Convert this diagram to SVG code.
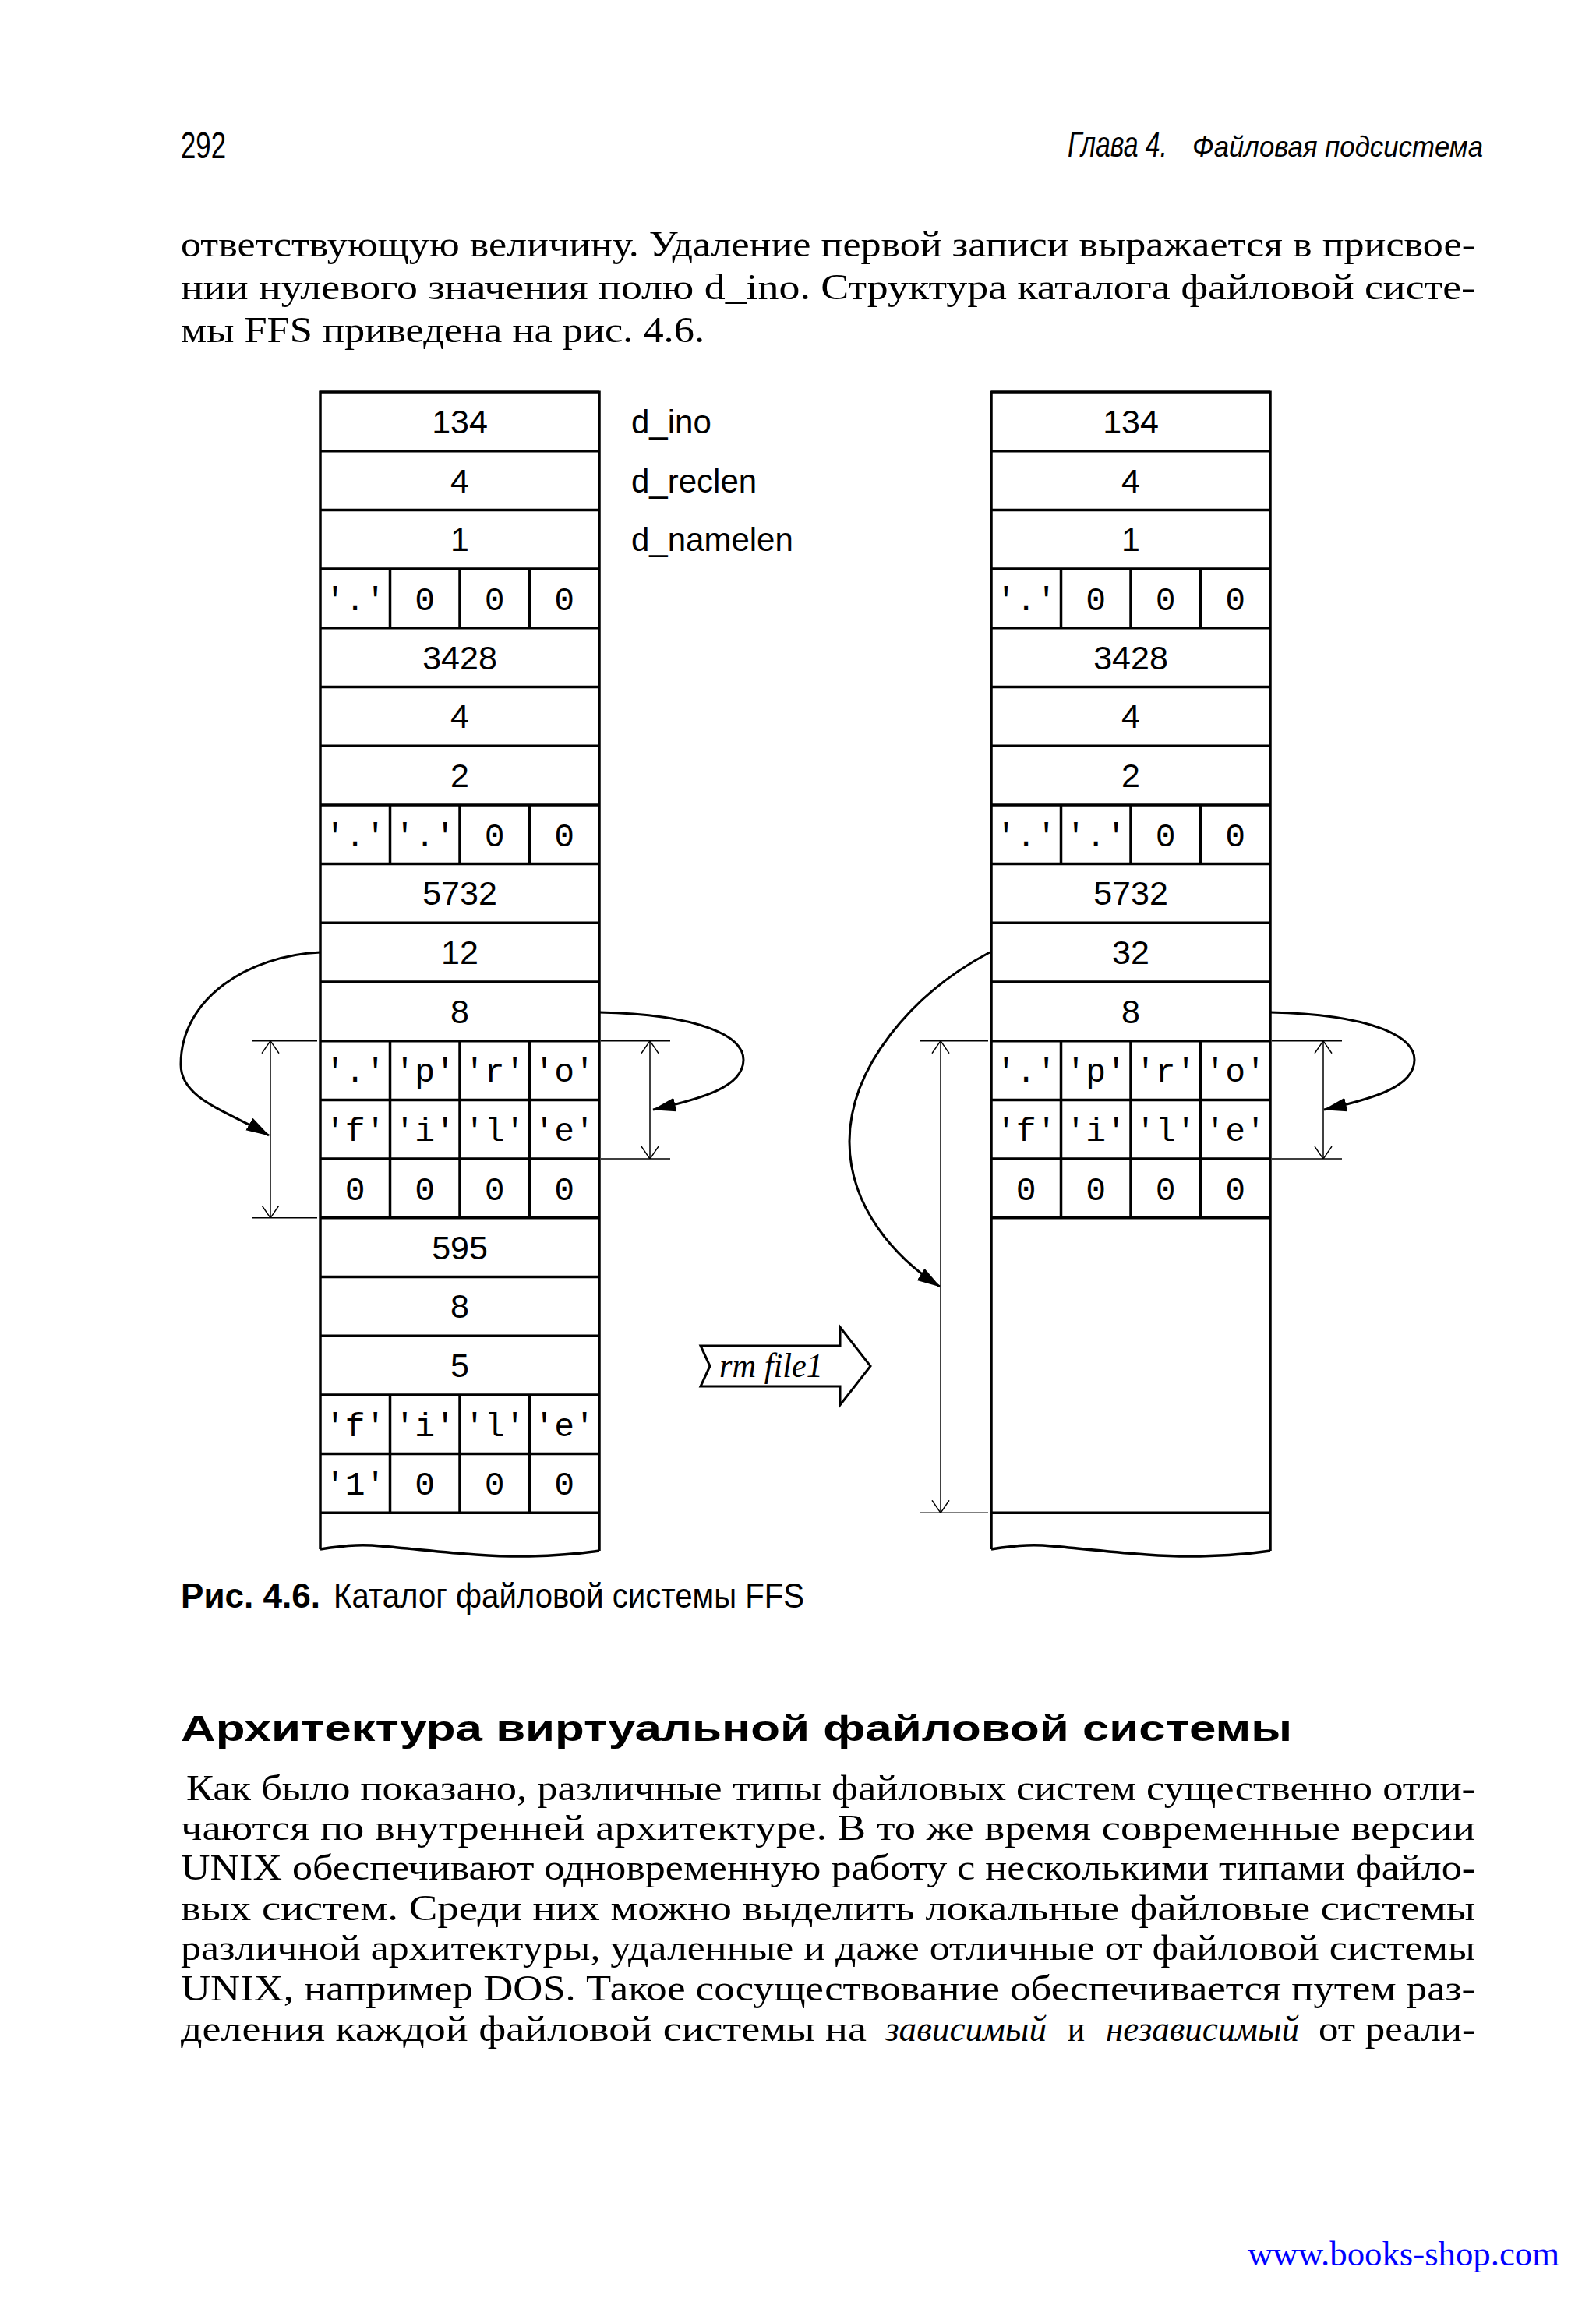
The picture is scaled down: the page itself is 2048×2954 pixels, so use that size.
<svg xmlns="http://www.w3.org/2000/svg" width="2048" height="2954" viewBox="0 0 2048 2954">
<defs>
<style>
.tbl{fill:none;stroke:#000;stroke-width:3.5}
.thin{fill:none;stroke:#000;stroke-width:1.5}
.conn{fill:none;stroke:#000;stroke-width:3}
.num{font-family:"Liberation Sans",Arial,sans-serif;font-size:43px;text-anchor:middle;fill:#000}
.lbl{font-family:"Liberation Sans",Arial,sans-serif;font-size:42px;fill:#000}
.ch{font-family:"Liberation Mono","Courier New",monospace;font-size:43px;text-anchor:middle;fill:#000}
.body{font-family:"Liberation Serif","Times New Roman",serif;font-size:46px;fill:#000}
.bi{font-style:italic}
.sans{font-family:"Liberation Sans",Arial,sans-serif;fill:#000}
</style>
<marker id="ah" viewBox="0 0 30 20" refX="29" refY="10" markerWidth="30" markerHeight="20" markerUnits="userSpaceOnUse" orient="auto"><path d="M0,1 L30,10 L0,19 Z" fill="#000"/></marker>
<marker id="dim" viewBox="0 0 16 24" refX="16" refY="12" markerWidth="16" markerHeight="24" markerUnits="userSpaceOnUse" orient="auto-start-reverse"><path d="M0,1 L16,12 L0,23" fill="none" stroke="#000" stroke-width="1.5"/></marker>
</defs>
<rect width="2048" height="2954" fill="#fff"/>

<g id="page-header">
<text class="sans" x="232" y="203" font-size="48" textLength="58" lengthAdjust="spacingAndGlyphs">292</text>
<text class="sans" x="1370" y="201" font-size="46" font-style="italic" textLength="128" lengthAdjust="spacingAndGlyphs">Глава 4.</text>
<text class="sans" x="1530" y="201" font-size="37" font-style="italic" textLength="373" lengthAdjust="spacingAndGlyphs">Файловая подсистема</text>
</g>

<g id="para1">
<text class="body" x="232" y="329" textLength="1661" lengthAdjust="spacingAndGlyphs">ответствующую величину. Удаление первой записи выражается в присвое-</text>
<text class="body" x="232" y="384" textLength="1661" lengthAdjust="spacingAndGlyphs">нии нулевого значения полю d_ino. Структура каталога файловой систе-</text>
<text class="body" x="232" y="439" textLength="672" lengthAdjust="spacingAndGlyphs">мы FFS приведена на рис. 4.6.</text>
</g>

<g id="left-table">
<path class="tbl" d="M411 503H769M411 578.7H769M411 654.4H769M411 730.1H769M411 805.8H769M411 881.5H769M411 957.2H769M411 1032.9H769M411 1108.6H769M411 1184.3H769M411 1260H769M411 1335.7H769M411 1411.4H769M411 1487.1H769M411 1562.8H769M411 1638.5H769M411 1714.2H769M411 1789.9H769M411 1865.6H769M411 1941.3H769M411 501.5V1988M769 501.5V1990M411 1988C449 1982 469 1982 489 1984C559 1990 619 1998 679 1997C719 1996 749 1993 769 1990"/>
<path class="tbl" d="M500.5 730.1V805.8M590 730.1V805.8M679.5 730.1V805.8M500.5 1032.9V1108.6M590 1032.9V1108.6M679.5 1032.9V1108.6M500.5 1335.7V1562.8M590 1335.7V1562.8M679.5 1335.7V1562.8M500.5 1789.9V1941.3M590 1789.9V1941.3M679.5 1789.9V1941.3"/>
<text class="num" x="590" y="556">134</text>
<text class="num" x="590" y="632">4</text>
<text class="num" x="590" y="707">1</text>
<text class="ch" x="455.75" y="783">'.'</text><text class="ch" x="545.25" y="783">0</text><text class="ch" x="634.75" y="783">0</text><text class="ch" x="724.25" y="783">0</text>
<text class="num" x="590" y="859">3428</text>
<text class="num" x="590" y="934">4</text>
<text class="num" x="590" y="1010">2</text>
<text class="ch" x="455.75" y="1086">'.'</text><text class="ch" x="545.25" y="1086">'.'</text><text class="ch" x="634.75" y="1086">0</text><text class="ch" x="724.25" y="1086">0</text>
<text class="num" x="590" y="1161">5732</text>
<text class="num" x="590" y="1237">12</text>
<text class="num" x="590" y="1313">8</text>
<text class="ch" x="455.75" y="1388">'.'</text><text class="ch" x="545.25" y="1388">'p'</text><text class="ch" x="634.75" y="1388">'r'</text><text class="ch" x="724.25" y="1388">'o'</text>
<text class="ch" x="455.75" y="1464">'f'</text><text class="ch" x="545.25" y="1464">'i'</text><text class="ch" x="634.75" y="1464">'l'</text><text class="ch" x="724.25" y="1464">'e'</text>
<text class="ch" x="455.75" y="1540">0</text><text class="ch" x="545.25" y="1540">0</text><text class="ch" x="634.75" y="1540">0</text><text class="ch" x="724.25" y="1540">0</text>
<text class="num" x="590" y="1616">595</text>
<text class="num" x="590" y="1691">8</text>
<text class="num" x="590" y="1767">5</text>
<text class="ch" x="455.75" y="1843">'f'</text><text class="ch" x="545.25" y="1843">'i'</text><text class="ch" x="634.75" y="1843">'l'</text><text class="ch" x="724.25" y="1843">'e'</text>
<text class="ch" x="455.75" y="1918">'1'</text><text class="ch" x="545.25" y="1918">0</text><text class="ch" x="634.75" y="1918">0</text><text class="ch" x="724.25" y="1918">0</text>
</g>

<g id="field-labels">
<text class="lbl" x="810" y="556">d_ino</text>
<text class="lbl" x="810" y="632">d_reclen</text>
<text class="lbl" x="810" y="707">d_namelen</text>
</g>

<g id="right-table">
<path class="tbl" d="M1272 503H1630M1272 578.7H1630M1272 654.4H1630M1272 730.1H1630M1272 805.8H1630M1272 881.5H1630M1272 957.2H1630M1272 1032.9H1630M1272 1108.6H1630M1272 1184.3H1630M1272 1260H1630M1272 1335.7H1630M1272 1411.4H1630M1272 1487.1H1630M1272 1562.8H1630M1272 1941.3H1630M1272 501.5V1988M1630 501.5V1990M1272 1988C1310 1982 1330 1982 1350 1984C1420 1990 1480 1998 1540 1997C1580 1996 1610 1993 1630 1990"/>
<path class="tbl" d="M1361.5 730.1V805.8M1451 730.1V805.8M1540.5 730.1V805.8M1361.5 1032.9V1108.6M1451 1032.9V1108.6M1540.5 1032.9V1108.6M1361.5 1335.7V1562.8M1451 1335.7V1562.8M1540.5 1335.7V1562.8"/>
<text class="num" x="1451" y="556">134</text>
<text class="num" x="1451" y="632">4</text>
<text class="num" x="1451" y="707">1</text>
<text class="ch" x="1316.75" y="783">'.'</text><text class="ch" x="1406.25" y="783">0</text><text class="ch" x="1495.75" y="783">0</text><text class="ch" x="1585.25" y="783">0</text>
<text class="num" x="1451" y="859">3428</text>
<text class="num" x="1451" y="934">4</text>
<text class="num" x="1451" y="1010">2</text>
<text class="ch" x="1316.75" y="1086">'.'</text><text class="ch" x="1406.25" y="1086">'.'</text><text class="ch" x="1495.75" y="1086">0</text><text class="ch" x="1585.25" y="1086">0</text>
<text class="num" x="1451" y="1161">5732</text>
<text class="num" x="1451" y="1237">32</text>
<text class="num" x="1451" y="1313">8</text>
<text class="ch" x="1316.75" y="1388">'.'</text><text class="ch" x="1406.25" y="1388">'p'</text><text class="ch" x="1495.75" y="1388">'r'</text><text class="ch" x="1585.25" y="1388">'o'</text>
<text class="ch" x="1316.75" y="1464">'f'</text><text class="ch" x="1406.25" y="1464">'i'</text><text class="ch" x="1495.75" y="1464">'l'</text><text class="ch" x="1585.25" y="1464">'e'</text>
<text class="ch" x="1316.75" y="1540">0</text><text class="ch" x="1406.25" y="1540">0</text><text class="ch" x="1495.75" y="1540">0</text><text class="ch" x="1585.25" y="1540">0</text>
</g>

<g id="rm-arrow">
<polygon points="899,1727 1078,1727 1078,1703 1117,1753 1078,1803 1078,1779 899,1779 911,1753" fill="#fff" stroke="#000" stroke-width="3" stroke-linejoin="miter"/>
<text x="923" y="1767" font-family="'Liberation Serif','Times New Roman',serif" font-style="italic" font-size="44" textLength="133" lengthAdjust="spacingAndGlyphs">rm file1</text>
</g>

<g id="connectors">
<path class="thin" d="M323 1335.7H407M323 1562.8H407M771 1335.7H860M771 1487.1H860M1180 1335.7H1268M1180 1941.3H1268M1632 1335.7H1722M1632 1487.1H1722"/>
<path class="thin" d="M347 1335.7V1562.8" marker-start="url(#dim)" marker-end="url(#dim)"/>
<path class="thin" d="M834 1335.7V1487.1" marker-start="url(#dim)" marker-end="url(#dim)"/>
<path class="thin" d="M1207 1335.7V1941.3" marker-start="url(#dim)" marker-end="url(#dim)"/>
<path class="thin" d="M1698 1335.7V1487.1" marker-start="url(#dim)" marker-end="url(#dim)"/>
<path class="conn" d="M411 1222C320 1226 232 1280 232 1366C232 1410 290 1425 345 1457" marker-end="url(#ah)"/>
<path class="conn" d="M769 1299C900 1302 954 1330 954 1360C954 1395 900 1410 838 1424" marker-end="url(#ah)"/>
<path class="conn" d="M1270 1222C1170 1275 1090 1370 1090 1465C1090 1550 1150 1615 1206 1651" marker-end="url(#ah)"/>
<path class="conn" d="M1630 1299C1761 1302 1815 1330 1815 1360C1815 1395 1761 1410 1699 1424" marker-end="url(#ah)"/>
</g>

<g id="caption">
<text class="sans" x="232" y="2063" font-size="44" font-weight="bold" textLength="179" lengthAdjust="spacingAndGlyphs">Рис. 4.6.</text>
<text class="sans" x="428" y="2063" font-size="44" textLength="604" lengthAdjust="spacingAndGlyphs">Каталог файловой системы FFS</text>
</g>

<g id="heading">
<text class="sans" x="232" y="2234" font-size="46" font-weight="bold" textLength="1426" lengthAdjust="spacingAndGlyphs">Архитектура виртуальной файловой системы</text>
</g>

<g id="para2">
<text class="body" x="239" y="2310" textLength="1654" lengthAdjust="spacingAndGlyphs">Как было показано, различные типы файловых систем существенно отли-</text>
<text class="body" x="232" y="2361" textLength="1661" lengthAdjust="spacingAndGlyphs">чаются по внутренней архитектуре. В то же время современные версии</text>
<text class="body" x="232" y="2412" textLength="1661" lengthAdjust="spacingAndGlyphs">UNIX обеспечивают одновременную работу с несколькими типами файло-</text>
<text class="body" x="232" y="2464" textLength="1661" lengthAdjust="spacingAndGlyphs">вых систем. Среди них можно выделить локальные файловые системы</text>
<text class="body" x="232" y="2515" textLength="1661" lengthAdjust="spacingAndGlyphs">различной архитектуры, удаленные и даже отличные от файловой системы</text>
<text class="body" x="232" y="2567" textLength="1661" lengthAdjust="spacingAndGlyphs">UNIX, например DOS. Такое сосуществование обеспечивается путем раз-</text>
<text class="body" x="232" y="2619" textLength="880" lengthAdjust="spacingAndGlyphs">деления каждой файловой системы на</text>
<text class="body bi" x="1136" y="2619" textLength="207" lengthAdjust="spacingAndGlyphs">зависимый</text>
<text class="body" x="1370" y="2619" textLength="22" lengthAdjust="spacingAndGlyphs">и</text>
<text class="body bi" x="1419" y="2619" textLength="248" lengthAdjust="spacingAndGlyphs">независимый</text>
<text class="body" x="1692" y="2619" textLength="201" lengthAdjust="spacingAndGlyphs">от реали-</text>
</g>

<g id="footer">
<text x="1601" y="2907" font-family="'Liberation Serif','Times New Roman',serif" font-size="44" fill="#0000ff" textLength="400" lengthAdjust="spacingAndGlyphs">www.books-shop.com</text>
</g>
</svg>
